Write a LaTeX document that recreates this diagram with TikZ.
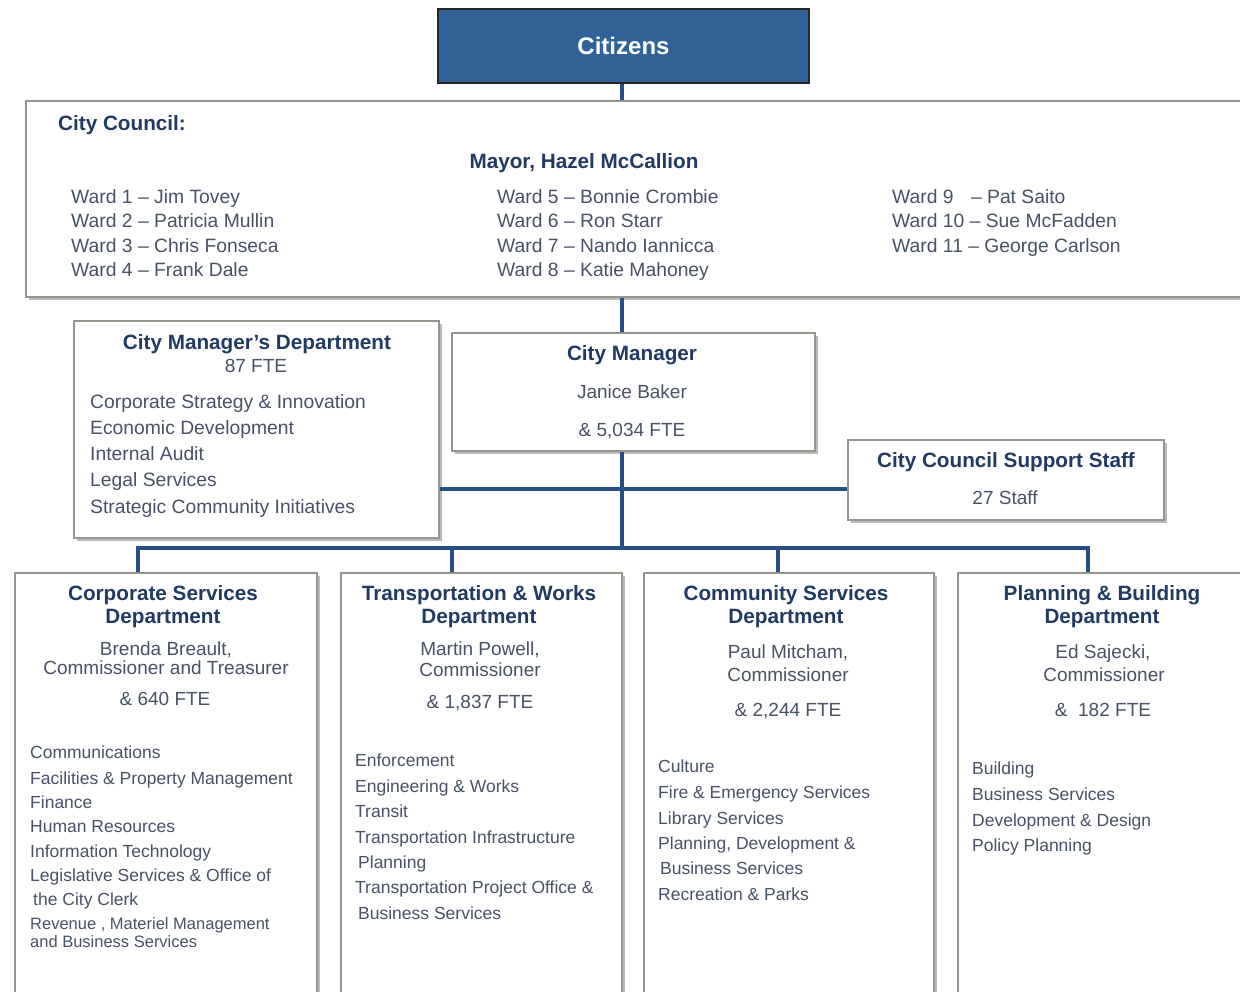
\documentclass[tikz,border=0pt]{standalone}
\usepackage{fontspec}
\setmainfont{Liberation Sans}
\usetikzlibrary{shadows}
\definecolor{conn}{RGB}{38,80,132}
\definecolor{citi}{RGB}{48,98,152}
\definecolor{ttl}{RGB}{32,58,98}
\definecolor{bod}{RGB}{72,82,102}
\definecolor{bord}{RGB}{150,150,140}
\tikzset{
  box/.style={draw=bord, line width=2pt, fill=white, inner sep=0pt, anchor=north west,
    drop shadow={shadow xshift=3pt, shadow yshift=-3pt, fill=black!45, opacity=.6}},
  citbox/.style={draw=black!85, line width=2pt, fill=citi, inner sep=0pt, anchor=north west,
    text=white, font=\bfseries\fontsize{24}{28}\selectfont},
  conn/.style={draw=conn, line width=4pt},
  ttltxt/.style={text=ttl, font=\bfseries\fontsize{20.7}{24}\selectfont, inner sep=0pt, anchor=base},
  nametxt/.style={text=bod, font=\fontsize{19}{23}\selectfont, inner sep=0pt, anchor=base},
  bodytxt/.style={text=bod, font=\fontsize{19.3}{22}\selectfont, inner sep=0pt, anchor=base west},
  smalltxt/.style={text=bod, font=\fontsize{17.5}{21}\selectfont, inner sep=0pt, anchor=base west},
  tinytxt/.style={text=bod, font=\fontsize{16.5}{19}\selectfont, inner sep=0pt, anchor=base west},
}
\begin{document}
\begin{tikzpicture}[x=1pt,y=-1pt]
\useasboundingbox[fill=white] (0,0) rectangle (1240,992);
\begin{scope}
\clip (0,0) rectangle (1240,992);
% boxes
\node[box, minimum width=1250pt, minimum height=196pt] (council) at (25,100) {};
\node[citbox, minimum width=371pt, minimum height=74pt] (citizens) at (437,8) {Citizens};
\node[box, minimum width=365pt, minimum height=217pt] (cmd) at (73,320) {};
\node[box, minimum width=363pt, minimum height=118pt] (cm) at (451,332) {};
\node[box, minimum width=316pt, minimum height=80pt] (sup) at (847,439) {};
\node[box, minimum width=302pt, minimum height=440pt] (d1) at (14,572) {};
\node[box, minimum width=281pt, minimum height=440pt] (d2) at (340,572) {};
\node[box, minimum width=290pt, minimum height=440pt] (d3) at (643,572) {};
\node[box, minimum width=300pt, minimum height=440pt] (d4) at (957,572) {};

% connectors
\coordinate (spine) at (622,0);
\coordinate (hl) at (0,489);
\coordinate (b1) at (138,548);
\coordinate (b2) at (452,548);
\coordinate (b3) at (778,548);
\coordinate (b4) at (1088,548);
\draw[conn] (citizens.south -| spine) -- (council.north -| spine);
\draw[conn] (council.south -| spine) -- (cm.north -| spine);
\draw[conn] (cm.south -| spine) -- (b1 -| spine);
\draw[conn] (cmd.east |- hl) -- (sup.west |- hl);
\draw[conn] (b1 |- d1.north) -- (b1) -- (b4) -- (b4 |- d4.north);
\draw[conn] (b2) -- (b2 |- d2.north);
\draw[conn] (b3) -- (b3 |- d3.north);

% council text
\node[ttltxt, anchor=base west] (cct) at (58,131) {City Council:};
\node[ttltxt] (mayor) at (584,169) {Mayor, Hazel McCallion};
\node[bodytxt] (w1) at (71,204) {Ward 1 – Jim Tovey};
\node[bodytxt] (w2) at (71,228) {Ward 2 – Patricia Mullin};
\node[bodytxt] (w3) at (71,253) {Ward 3 – Chris Fonseca};
\node[bodytxt] (w4) at (71,277) {Ward 4 – Frank Dale};
\node[bodytxt] (w5) at (497,204) {Ward 5 – Bonnie Crombie};
\node[bodytxt] (w6) at (497,228) {Ward 6 – Ron Starr};
\node[bodytxt] (w7) at (497,253) {Ward 7 – Nando Iannicca};
\node[bodytxt] (w8) at (497,277) {Ward 8 – Katie Mahoney};
\node[bodytxt] (w9) at (892,204) {Ward 9\hspace{12pt} – Pat Saito};
\node[bodytxt] (w10) at (892,228) {Ward 10 – Sue McFadden};
\node[bodytxt] (w11) at (892,253) {Ward 11 – George Carlson};

% city manager's department
\node[ttltxt] (cmdt) at (257,349) {City Manager’s Department};
\node[nametxt] (cmdf) at (256,373) {87 FTE};
\node[bodytxt] (cmd1) at (90,408) {Corporate Strategy \& Innovation};
\node[bodytxt] (cmd2) at (90,434) {Economic Development};
\node[bodytxt] (cmd3) at (90,460) {Internal Audit};
\node[bodytxt] (cmd4) at (90,486) {Legal Services};
\node[bodytxt] (cmd5) at (90,513) {Strategic Community Initiatives};

% city manager
\node[ttltxt] (cmt) at (632,361) {City Manager};
\node[nametxt] (cmn) at (632,398) {Janice Baker};
\node[nametxt] (cmf) at (632,436) {\& 5,034 FTE};

% support staff
\node[ttltxt] (supt) at (1006,467) {City Council Support Staff};
\node[nametxt] (supn) at (1005,504) {27 Staff};

% corporate services
\node[ttltxt] (d1t1) at (163,600) {Corporate Services};
\node[ttltxt] (d1t2) at (163,623) {Department};
\node[nametxt] (d1n1) at (166,655) {Brenda Breault,};
\node[nametxt] (d1n2) at (166,674) {Commissioner and Treasurer};
\node[nametxt] (d1f) at (165,705) {\& 640 FTE};
\node[smalltxt] (d1i1) at (30,758) {Communications};
\node[smalltxt] (d1i2) at (30,784) {Facilities \& Property Management};
\node[smalltxt] (d1i3) at (30,808) {Finance};
\node[smalltxt] (d1i4) at (30,832) {Human Resources};
\node[smalltxt] (d1i5) at (30,857) {Information Technology};
\node[smalltxt] (d1i6) at (30,881) {Legislative Services \& Office of};
\node[smalltxt] (d1i7) at (33,905) {the City Clerk};
\node[tinytxt] (d1i8) at (30,929) {Revenue , Materiel Management};
\node[tinytxt] (d1i9) at (30,947) {and Business Services};

% transportation & works
\node[ttltxt] (d2t1) at (479,600) {Transportation \& Works};
\node[ttltxt] (d2t2) at (479,623) {Department};
\node[nametxt] (d2n1) at (480,655) {Martin Powell,};
\node[nametxt] (d2n2) at (480,676) {Commissioner};
\node[nametxt] (d2f) at (480,708) {\& 1,837 FTE};
\node[smalltxt] (d2i1) at (355,766) {Enforcement};
\node[smalltxt] (d2i2) at (355,792) {Engineering \& Works};
\node[smalltxt] (d2i3) at (355,817) {Transit};
\node[smalltxt] (d2i4) at (355,843) {Transportation Infrastructure};
\node[smalltxt] (d2i5) at (358,868) {Planning};
\node[smalltxt] (d2i6) at (355,893) {Transportation Project Office \&};
\node[smalltxt] (d2i7) at (358,919) {Business Services};

% community services
\node[ttltxt] (d3t1) at (786,600) {Community Services};
\node[ttltxt] (d3t2) at (786,623) {Department};
\node[nametxt] (d3n1) at (788,658) {Paul Mitcham,};
\node[nametxt] (d3n2) at (788,681) {Commissioner};
\node[nametxt] (d3f) at (788,716) {\& 2,244 FTE};
\node[smalltxt] (d3i1) at (658,772) {Culture};
\node[smalltxt] (d3i2) at (658,798) {Fire \& Emergency Services};
\node[smalltxt] (d3i3) at (658,824) {Library Services};
\node[smalltxt] (d3i4) at (658,849) {Planning, Development \&};
\node[smalltxt] (d3i5) at (660,874) {Business Services};
\node[smalltxt] (d3i6) at (658,900) {Recreation \& Parks};

% planning & building
\node[ttltxt] (d4t1) at (1102,600) {Planning \& Building};
\node[ttltxt] (d4t2) at (1102,623) {Department};
\node[nametxt] (d4n1) at (1103,658) {Ed Sajecki,};
\node[nametxt] (d4n2) at (1104,681) {Commissioner};
\node[nametxt] (d4f) at (1103,716) {\&\ \ 182 FTE};
\node[smalltxt] (d4i1) at (972,774) {Building};
\node[smalltxt] (d4i2) at (972,800) {Business Services};
\node[smalltxt] (d4i3) at (972,826) {Development \& Design};
\node[smalltxt] (d4i4) at (972,851) {Policy Planning};
\end{scope}
\end{tikzpicture}
\end{document}
